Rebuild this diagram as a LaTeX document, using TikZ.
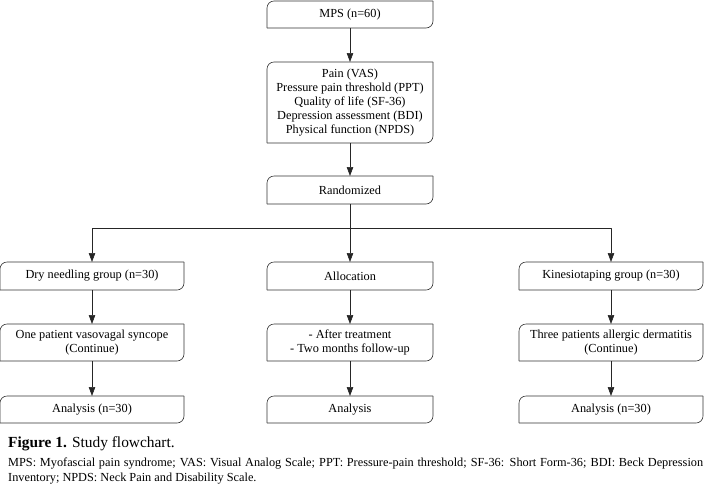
\documentclass[tikz,border=0pt]{standalone}
\usepackage{fontspec}
\setmainfont{Liberation Serif}
\usetikzlibrary{arrows.meta}
\begin{document}
\begin{tikzpicture}[x=1pt,y=-1pt,line join=round,
  box/.style={inner sep=0pt,outer sep=0pt,align=center,font=\fontsize{12.3}{14}\selectfont},
  mid/.style={box,minimum width=166},
  side/.style={box,minimum width=184},
  frame/.style={draw=black!80,line width=0.6pt,rounded corners=7pt},
  arr/.style={draw=black!85,line width=0.6pt,-{Triangle[length=9pt,width=6.5pt]}}]
\useasboundingbox (0,0) rectangle (704,483);
\node[mid,minimum height=27] (mps) at (350,14.5) {MPS (n=60)};
\node[mid,minimum height=81] (pain) at (350,102.5) {Pain (VAS)\\Pressure pain threshold (PPT)\\Quality of life (SF-36)\\Depression assessment (BDI)\\Physical function (NPDS)};
\node[mid,minimum height=28] (rand) at (350,190) {Randomized};
\coordinate (split) at (350,228);
\node[side,minimum height=28] (dry) at (92,276) {Dry needling group (n=30)};
\node[mid,minimum height=28] (alloc) at (350,276) {Allocation};
\node[side,minimum height=28] (kin) at (611,276) {Kinesiotaping group (n=30)};
\node[side,minimum height=37] (dryev) at (92,342.5) {One patient vasovagal syncope\\(Continue)};
\node[mid,minimum height=37] (allocev) at (350,342.5) {- After treatment\\- Two months follow-up};
\node[side,minimum height=37] (kinev) at (611,342.5) {Three patients allergic dermatitis\\(Continue)};
\node[side,minimum height=27] (dryan) at (92,409.5) {Analysis (n=30)};
\node[mid,minimum height=27] (allocan) at (350,409.5) {Analysis};
\node[side,minimum height=27] (kinan) at (611,409.5) {Analysis (n=30)};
\foreach \n in {mps,pain,rand,dry,alloc,kin,dryev,allocev,kinev,dryan,allocan,kinan} {
  \draw[frame] (\n.south west) |- (\n.north east);
  \draw[frame] (\n.north east) |- (\n.south west);
}
\draw[arr] (mps) -- (pain);
\draw[arr] (pain) -- (rand);
\draw[draw=black!85,line width=0.6pt] (rand) -- (split);
\draw[arr] (split) -| (dry);
\draw[arr] (split) -- (alloc);
\draw[arr] (split) -| (kin);
\foreach \a/\b/\c in {dry/dryev/dryan,alloc/allocev/allocan,kin/kinev/kinan} {
  \draw[arr] (\a) -- (\b);
  \draw[arr] (\b) -- (\c);
}
\node[anchor=base west,inner sep=0pt,font=\fontsize{15.4}{17}\selectfont] (cap) at (8,447) {\textbf{Figure 1.} Study flowchart.};
\node[anchor=north west,inner sep=0pt,text width=695pt,align=justify,font=\fontsize{12.3}{15}\selectfont] (notes) at (8,457.4) {MPS: Myofascial pain syndrome; VAS: Visual Analog Scale; PPT: Pressure-pain threshold; SF-36: Short Form-36; BDI: Beck Depression\linebreak Inventory; NPDS: Neck Pain and Disability Scale.};
\end{tikzpicture}
\end{document}
